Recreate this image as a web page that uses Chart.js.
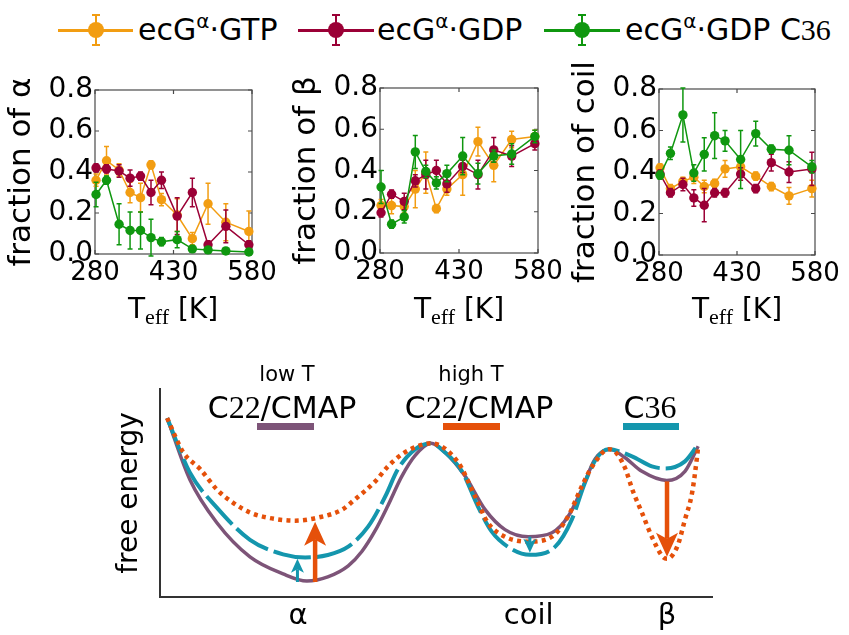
<!DOCTYPE html>
<html>
<head>
<meta charset="utf-8">
<title>Secondary structure vs temperature</title>
<script src="https://cdn.jsdelivr.net/npm/chart.js@4.4.1/dist/chart.umd.min.js"></script>
<style>
  html, body { margin: 0; padding: 0; background: #fff; }
  body { position: relative; width: 849px; height: 635px; overflow: hidden;
         font-family: "DejaVu Sans", sans-serif; color: #000; }
  canvas, .abs { position: absolute; }
  .serif { font-family: "Liberation Serif", serif; }
  .leg-line { height: 3px; top: 29px; }
  .leg-err { width: 2px; top: 14px; height: 32px; }
  .leg-cap { width: 8px; height: 2px; }
  .leg-dot { width: 16px; height: 16px; border-radius: 50%; top: 22px; }
  .leg-text { top: 10px; font-size: 30px; line-height: 40px; white-space: nowrap; }
  .leg-text sup { font-size: 20px; vertical-align: 12px; line-height: 0; }
  .xtitle { width: 200px; text-align: center; top: 292px; font-size: 28px; line-height: 34px; white-space: nowrap; }
  .xtitle sub { font-size: 22px; vertical-align: -6px; line-height: 0; }
  .small { font-size: 21px; line-height: 24px; width: 140px; text-align: center; top: 362px; }
  .big { font-size: 30px; line-height: 34px; width: 220px; text-align: center; white-space: nowrap; top: 390px; }
  .big .serif { font-size: 32px; }
  .bar { height: 7px; top: 423px; }
</style>
</head>
<body>

<canvas id="alpha" width="285" height="234" style="left:0px;top:60px"></canvas>
<canvas id="beta" width="285" height="235" style="left:285px;top:58px"></canvas>
<canvas id="coil" width="285" height="236" style="left:564px;top:59px"></canvas>
<canvas id="landscape" width="749" height="281" style="left:100px;top:354px"></canvas>

<div id="legend"></div>

<div class="abs xtitle" style="left:73px">T<sub class="serif">eff</sub> [K]</div>
<div class="abs xtitle" style="left:359px">T<sub class="serif">eff</sub> [K]</div>
<div class="abs xtitle" style="left:637px">T<sub class="serif">eff</sub> [K]</div>

<div class="abs small" style="left:217px">low T</div>
<div class="abs big" style="left:172px">C<span class="serif">22</span>/CMAP</div>
<div class="abs bar" style="left:257px;width:57px;background:#7d5478"></div>

<div class="abs small" style="left:401px">high T</div>
<div class="abs big" style="left:369px">C<span class="serif">22</span>/CMAP</div>
<div class="abs bar" style="left:443px;width:57px;background:#e5500a"></div>

<div class="abs big" style="left:540px">C<span class="serif">36</span></div>
<div class="abs bar" style="left:623px;width:56px;background:#1496ad"></div>

<script>
// replica temperatures [K]
const temps = [282, 302, 326, 347, 367, 387, 407, 437, 466, 496, 530, 574];
const xTicks = [280, 430, 580];
const yTicks = [0, 0.2, 0.4, 0.6, 0.8];

const seriesNames = ['ecG<sup>α</sup>·GTP', 'ecG<sup>α</sup>·GDP', 'ecG<sup>α</sup>·GDP C<span class="serif">36</span>'];
const seriesColors = ['#f29d12', '#9b0036', '#0f970f'];

// fraction of alpha
const alphaGTP    = [0.36, 0.455, 0.41, 0.30, 0.275, 0.435, 0.265, 0.19, 0.075, 0.245, 0.155, 0.11];
const alphaGTPErr = [0.03, 0.07, 0.03, 0.05, 0.07, 0.02, 0.03, 0.08, 0.03, 0.10, 0.09, 0.10];
const alphaGDP    = [0.42, 0.415, 0.405, 0.37, 0.38, 0.30, 0.36, 0.185, 0.30, 0.045, 0.135, 0.045];
const alphaGDPErr = [0.02, 0.02, 0.03, 0.04, 0.02, 0.06, 0.04, 0.09, 0.07, 0.02, 0.08, 0.02];
const alphaC36    = [0.29, 0.36, 0.145, 0.115, 0.115, 0.08, 0.06, 0.07, 0.025, 0.02, 0.015, 0.01];
const alphaC36Err = [0.06, 0.02, 0.10, 0.09, 0.09, 0.09, 0.02, 0.04, 0.01, 0.01, 0.01, 0.01];

// fraction of beta
const betaGTP    = [0.23, 0.23, 0.225, 0.31, 0.39, 0.215, 0.31, 0.38, 0.54, 0.425, 0.55, 0.565];
const betaGTPErr = [0.03, 0.04, 0.03, 0.09, 0.10, 0.02, 0.03, 0.10, 0.07, 0.08, 0.04, 0.03];
const betaGDP    = [0.195, 0.285, 0.25, 0.35, 0.38, 0.40, 0.335, 0.42, 0.38, 0.50, 0.47, 0.53];
const betaGDPErr = [0.02, 0.02, 0.04, 0.03, 0.07, 0.05, 0.04, 0.03, 0.07, 0.06, 0.05, 0.03];
const betaC36    = [0.32, 0.14, 0.175, 0.49, 0.395, 0.34, 0.385, 0.47, 0.385, 0.47, 0.48, 0.565];
const betaC36Err = [0.08, 0.02, 0.03, 0.08, 0.03, 0.03, 0.04, 0.09, 0.05, 0.03, 0.05, 0.03];

// fraction of coil
const coilGTP    = [0.42, 0.32, 0.355, 0.375, 0.33, 0.345, 0.415, 0.425, 0.38, 0.33, 0.285, 0.32];
const coilGTPErr = [0.02, 0.02, 0.02, 0.03, 0.03, 0.02, 0.04, 0.04, 0.02, 0.02, 0.04, 0.04];
const coilGDP    = [0.39, 0.30, 0.34, 0.275, 0.24, 0.30, 0.30, 0.39, 0.32, 0.445, 0.40, 0.415];
const coilGDPErr = [0.02, 0.02, 0.03, 0.04, 0.08, 0.02, 0.02, 0.03, 0.02, 0.04, 0.05, 0.08];
const coilC36    = [0.385, 0.49, 0.675, 0.395, 0.485, 0.575, 0.55, 0.46, 0.585, 0.51, 0.505, 0.425];
const coilC36Err = [0.02, 0.03, 0.13, 0.04, 0.08, 0.11, 0.05, 0.14, 0.06, 0.02, 0.07, 0.03];

// free energy sketch (arbitrary units)
const lowTX = [1.3, 5.4, 10.3, 16.3, 22.3, 26.6, 30.4, 34.1, 36.6, 39.0, 41.3, 43.8, 46.2, 49.1, 51.6, 55.3, 58.9, 62.5, 66.7, 71.0, 73.9, 76.4, 78.8, 81.5, 84.2, 87.3, 91.8, 95.1, 97.5];
const lowTY = [8.6, 5.65, 3.57, 1.93, 1.11, 0.77, 0.97, 1.50, 2.20, 3.20, 4.40, 5.80, 6.80, 7.39, 6.96, 5.80, 4.20, 3.24, 2.90, 3.09, 3.86, 5.17, 6.62, 7.10, 6.71, 6.04, 5.60, 6.04, 7.25];
const c36X = [1.3, 5.4, 10.3, 16.3, 22.3, 26.3, 30.4, 34.1, 37.7, 40.8, 43.1, 46.2, 49.1, 51.6, 54.7, 57.6, 60.1, 63.0, 67.0, 71.6, 74.6, 77.0, 79.2, 81.3, 85.5, 89.1, 91.5, 95.1, 97.5];
const c36Y = [8.6, 5.99, 4.30, 2.75, 2.05, 1.90, 2.02, 2.42, 3.38, 4.83, 6.14, 7.10, 7.39, 6.96, 6.04, 4.35, 3.14, 2.42, 2.03, 2.42, 3.72, 5.51, 6.71, 7.10, 6.76, 6.28, 6.18, 6.52, 7.34];
const highTX = [1.3, 4.2, 7.3, 10.3, 13.2, 16.3, 19.4, 24.5, 29.3, 33.0, 35.3, 39.0, 41.3, 43.8, 46.7, 49.1, 54.0, 57.1, 59.4, 62.5, 66.7, 71.0, 73.9, 76.4, 78.3, 81.3, 82.4, 84.2, 85.7, 87.3, 89.1, 91.1, 91.85, 93.7, 95.1, 96.4, 97.3, 97.5];
const highTY = [8.6, 6.96, 6.14, 5.17, 4.54, 4.06, 3.82, 3.67, 3.86, 4.20, 4.69, 5.56, 6.28, 6.86, 7.25, 7.39, 6.47, 4.83, 3.57, 2.90, 2.66, 2.90, 3.86, 5.31, 6.28, 7.10, 7.00, 6.23, 5.07, 4.06, 2.90, 1.93, 1.84, 2.42, 3.72, 5.02, 6.76, 7.25];

const stateLabels = ['α', 'coil', 'β'];
const statePos = [25.0, 66.8, 91.85];

// shifts shown as arrows: x, from, to, which curve
const arrowX = [24.9, 28.1, 67.0, 91.85];
const arrowFrom = [0.72, 0.72, 2.90, 5.56];
const arrowTo = [1.84, 3.62, 2.13, 1.93];
const arrowKind = ['c36', 'high', 'c36', 'high'];

const FONT = '"DejaVu Sans", sans-serif';
const curveColors = { low: '#7d5478', c36: '#1496ad', high: '#e5500a' };


// Legend (html)
const legend = document.getElementById('legend');
const legendSpots = [[58, 133, 138], [298, 374, 377], [544, 620, 625]];
seriesNames.forEach(function (name, i) {
    const [x0, x1, tx] = legendSpots[i];
    const c = seriesColors[i];
    const mid = (x0 + x1) / 2;
    legend.insertAdjacentHTML('beforeend',
        '<div class="abs leg-line" style="left:' + x0 + 'px;width:' + (x1 - x0) + 'px;background:' + c + '"></div>' +
        '<div class="abs leg-err" style="left:' + (mid - 1) + 'px;background:' + c + '"></div>' +
        '<div class="abs leg-cap" style="left:' + (mid - 4) + 'px;top:14px;background:' + c + '"></div>' +
        '<div class="abs leg-cap" style="left:' + (mid - 4) + 'px;top:44px;background:' + c + '"></div>' +
        '<div class="abs leg-dot" style="left:' + (mid - 8) + 'px;background:' + c + '"></div>' +
        '<div class="abs leg-text" style="left:' + tx + 'px">' + name + '</div>');
});


// Box frame with inward ticks
const framePlugin = {
    id: 'frame',
    beforeDatasetsDraw(chart) {
        const {ctx, chartArea: a, scales: {x, y}} = chart;
        ctx.save();
        ctx.strokeStyle = '#4a4a4a';
        ctx.lineWidth = 1.2;
        ctx.strokeRect(a.left, a.top, a.right - a.left, a.bottom - a.top);
        ctx.beginPath();
        x.ticks.forEach(function (t) {
            const px = x.getPixelForValue(t.value);
            ctx.moveTo(px, a.top); ctx.lineTo(px, a.top + 4);
            ctx.moveTo(px, a.bottom); ctx.lineTo(px, a.bottom - 4);
        });
        y.ticks.forEach(function (t) {
            const py = y.getPixelForValue(t.value);
            ctx.moveTo(a.left, py); ctx.lineTo(a.left + 4, py);
            ctx.moveTo(a.right, py); ctx.lineTo(a.right - 4, py);
        });
        ctx.stroke();
        ctx.restore();
    }
};

// Error bars, drawn just under each dataset
const errorBarPlugin = {
    id: 'errorbars',
    beforeDatasetDraw(chart, args) {
        const ds = chart.data.datasets[args.index];
        if (!ds.errors) return;
        const {ctx, scales: {x, y}} = chart;
        ctx.save();
        ctx.strokeStyle = ds.borderColor;
        ctx.lineWidth = 1.5;
        ctx.beginPath();
        ds.data.forEach(function (p, k) {
            const px = x.getPixelForValue(p.x);
            const top = y.getPixelForValue(p.y + ds.errors[k]);
            const bot = y.getPixelForValue(p.y - ds.errors[k]);
            ctx.moveTo(px, top); ctx.lineTo(px, bot);
            ctx.moveTo(px - 2.5, top); ctx.lineTo(px + 2.5, top);
            ctx.moveTo(px - 2.5, bot); ctx.lineTo(px + 2.5, bot);
        });
        ctx.stroke();
        ctx.restore();
    }
};

function makePanel(id, yTitle, values, errors, padRight) {
    new Chart(document.getElementById(id), {
        type: 'line',
        data: {
            datasets: values.map(function (vals, i) {
                return {
                    label: seriesNames[i],
                    data: temps.map((t, k) => ({x: t, y: vals[k]})),
                    errors: errors[i],
                    borderColor: seriesColors[i],
                    backgroundColor: seriesColors[i],
                    borderWidth: 1.5,
                    pointRadius: 4.7,
                    pointBorderWidth: 0,
                    order: 2 - i,
                    clip: 8
                };
            })
        },
        options: {
            responsive: false,
            animation: false,
            devicePixelRatio: 1,
            layout: { padding: {top: 30, right: padRight, left: 0, bottom: 0} },
            plugins: { legend: {display: false}, tooltip: {enabled: false} },
            scales: {
                x: {
                    type: 'linear', min: 280, max: 580,
                    afterBuildTicks: s => { s.ticks = xTicks.map(v => ({value: v})); },
                    afterFit: s => { s.height = 40; },
                    ticks: { color: '#000', font: {family: FONT, size: 26}, padding: 4, maxRotation: 0, autoSkip: false },
                    grid: { display: false, drawTicks: false },
                    border: { display: false }
                },
                y: {
                    min: 0, max: 0.8,
                    afterBuildTicks: s => { s.ticks = yTicks.map(v => ({value: v})); },
                    afterFit: s => { s.width = 95; },
                    ticks: { color: '#000', font: {family: FONT, size: 28}, padding: 2, callback: v => v.toFixed(1) },
                    grid: { display: false, drawTicks: false },
                    border: { display: false },
                    title: { display: true, text: yTitle, color: '#000', font: {family: FONT, size: 31}, padding: {top: 3, bottom: 0} }
                }
            }
        },
        plugins: [framePlugin, errorBarPlugin]
    });
}

makePanel('alpha', 'fraction of α', [alphaGTP, alphaGDP, alphaC36], [alphaGTPErr, alphaGDPErr, alphaC36Err], 33);
makePanel('beta', 'fraction of β', [betaGTP, betaGDP, betaC36], [betaGTPErr, betaGDPErr, betaC36Err], 32);
makePanel('coil', 'fraction of coil', [coilGTP, coilGDP, coilC36], [coilGTPErr, coilGDPErr, coilC36Err], 34);


// Free energy sketch
const arrowStyles = {
    c36:  { color: curveColors.c36, width: 3, head: 14, half: 6.5 },
    high: { color: curveColors.high, width: 4.5, head: 24, half: 11 }
};

const arrowPlugin = {
    id: 'arrows',
    afterDatasetsDraw(chart) {
        const {ctx, scales: {x, y}} = chart;
        arrowX.forEach(function (ax, i) {
            const st = arrowStyles[arrowKind[i]];
            const px = x.getPixelForValue(ax);
            const y0 = y.getPixelForValue(arrowFrom[i]);
            const y1 = y.getPixelForValue(arrowTo[i]);
            const dir = Math.sign(y1 - y0);
            const base = y1 - dir * st.head;
            const notch = y1 - dir * st.head * 0.75;
            ctx.save();
            ctx.strokeStyle = st.color;
            ctx.fillStyle = st.color;
            ctx.lineWidth = st.width;
            ctx.beginPath();
            ctx.moveTo(px, y0); ctx.lineTo(px, notch);
            ctx.stroke();
            ctx.beginPath();
            ctx.moveTo(px, y1);
            ctx.lineTo(px - st.half, base);
            ctx.lineTo(px, notch);
            ctx.lineTo(px + st.half, base);
            ctx.closePath();
            ctx.fill();
            ctx.restore();
        });
    }
};

function curve(xs, ys) {
    return xs.map((v, k) => ({x: v, y: ys[k]}));
}

new Chart(document.getElementById('landscape'), {
    type: 'line',
    data: {
        datasets: [
            { label: 'low T C22/CMAP', data: curve(lowTX, lowTY), borderColor: curveColors.low,
              borderWidth: 3.5, order: 2 },
            { label: 'C36', data: curve(c36X, c36Y), borderColor: curveColors.c36,
              borderWidth: 4, borderDash: [38, 6], order: 1 },
            { label: 'high T C22/CMAP', data: curve(highTX, highTY), borderColor: curveColors.high,
              borderWidth: 4.5, borderDash: [4, 4.3], order: 0 }
        ].map(d => Object.assign(d, { pointRadius: 0, cubicInterpolationMode: 'monotone', fill: false, clip: false }))
    },
    options: {
        responsive: false,
        animation: false,
        devicePixelRatio: 1,
        layout: { padding: {top: 35, right: 137, left: 0, bottom: 0} },
        plugins: { legend: {display: false}, tooltip: {enabled: false} },
        scales: {
            x: {
                type: 'linear', min: 0, max: 100,
                afterBuildTicks: s => { s.ticks = statePos.map(v => ({value: v})); },
                afterFit: s => { s.height = 38; },
                ticks: { color: '#000', font: {family: FONT, size: 29}, padding: 2, maxRotation: 0, autoSkip: false,
                         callback: (v, i) => stateLabels[i] },
                grid: { display: false, drawTicks: false },
                border: { display: true, color: '#333', width: 2 }
            },
            y: {
                min: 0, max: 10,
                afterFit: s => { s.width = 60; },
                ticks: { display: false },
                grid: { display: false, drawTicks: false },
                border: { display: true, color: '#333', width: 2 },
                title: { display: true, text: 'free energy', color: '#000', font: {family: FONT, size: 28}, padding: {top: 13, bottom: 0} }
            }
        }
    },
    plugins: [arrowPlugin]
});
</script>
</body>
</html>
